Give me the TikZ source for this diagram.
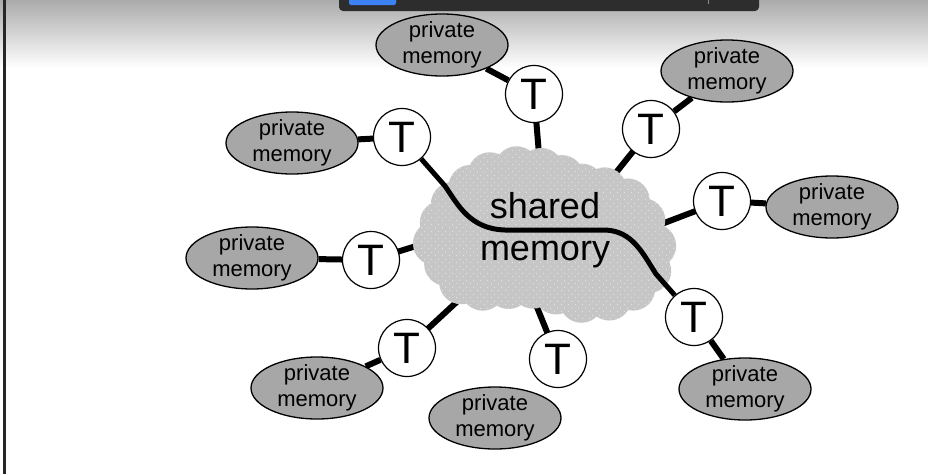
\documentclass[tikz,border=0pt]{standalone}
\usepackage{fontspec}
\setmainfont{Liberation Sans}
\usetikzlibrary{shapes.geometric,calc,patterns.meta}
\definecolor{pmfill}{HTML}{A7A7A7}
\definecolor{cloudfill}{HTML}{C6C6C6}
\definecolor{dotc}{HTML}{E2E2E2}
\definecolor{barc}{HTML}{2D2D2D}
\definecolor{bluec}{HTML}{3D82F5}
\tikzdeclarepattern{
  name=clouddots, type=uncolored,
  bounding box={(0pt,0pt) and (7pt,7pt)},
  tile size={(7pt,7pt)},
  code={\fill (1.75pt,1.75pt) circle (0.7pt); \fill (5.25pt,5.25pt) circle (0.7pt);}
}
\pgfdeclarelayer{bg}
\pgfdeclarelayer{edges}
\pgfsetlayers{bg,edges,main}
\begin{document}
\begin{tikzpicture}[x=1pt,y=-1pt,
  pmem/.style={ellipse, draw=black, line width=1.3pt, fill=pmfill, minimum width=132pt, minimum height=62pt, inner xsep=0pt, inner ysep=-4pt, align=center, font=\fontsize{22}{26}\selectfont},
  tnode/.style={circle, draw=black, line width=1.2pt, fill=white, minimum size=57pt, inner sep=0pt, font=\fontsize{44}{44}\selectfont},
  conn/.style={line width=6pt, black},
  sline/.style={line width=5pt, black, line join=round},
  cloudpart/.style={fill=cloudfill, postaction={pattern=clouddots, pattern color=dotc}}
]
\useasboundingbox (0,0) rectangle (928,474);
\begin{pgfonlayer}{bg}
  \fill[white] (0,0) rectangle (928,474);
  \shade[top color=black!33, bottom color=white] (0,0) rectangle (928,68);
  \fill[black!85] (3,0) rectangle (6,474);
  \fill[barc, rounded corners=4pt] (339,-8) rectangle (759,11);
  \fill[bluec, rounded corners=2pt] (349,-8) rectangle (396,5);
  \draw[black!45, line width=0.6pt] (708,0) -- (708,4);
\end{pgfonlayer}

% cloud: bumps around an outline
\coordinate (cc) at (545,235);
\foreach \px/\py [count=\i] in {452/175,475/158,508/148,540/148,568/156,595/168,
  622/176,648/192,665/217,676/248,670/278,652/300,625/314,592/320,
  560/314,528/308,496/305,466/303,442/293,425/270,413/245,420/220,432/197}
  {\coordinate (k\i) at ($(\px,\py)!22pt!(cc)$);}
\fill[cloudpart] (k1) -- (k2) -- (k3) -- (k4) -- (k5) -- (k6) -- (k7) -- (k8)
  -- (k9) -- (k10) -- (k11) -- (k12) -- (k13) -- (k14) -- (k15) -- (k16)
  -- (k17) -- (k18) -- (k19) -- (k20) -- (k21) -- (k22) -- (k23) -- cycle;
\foreach \i in {1,...,23} { \fill[cloudpart] (k\i) circle (22pt); }
\node[align=center, inner sep=0pt, font=\fontsize{36}{42}\selectfont] (smtext) at (545,230) {shared\\memory};

% private memories
\node[pmem] (E1) at (442,45) {private\\memory};
\node[pmem] (E2) at (727,71) {private\\memory};
\node[pmem] (E3) at (292,143) {private\\memory};
\node[pmem] (E4) at (832,207) {private\\memory};
\node[pmem] (E5) at (252,258) {private\\memory};
\node[pmem] (E6) at (317,388) {private\\memory};
\node[pmem] (E7) at (495,418) {private\\memory};
\node[pmem] (E8) at (745,389) {private\\memory};

% threads
\node[tnode] (Ta) at (534,94) {T};
\node[tnode] (Tb) at (651,129) {T};
\node[tnode] (Tc) at (402,137) {T};
\node[tnode] (Td) at (722,201) {T};
\node[tnode] (Te) at (371,260) {T};
\node[tnode] (Tf) at (407,348) {T};
\node[tnode] (Tg) at (558,359) {T};
\node[tnode] (Th) at (694,317) {T};

\coordinate (ca) at (542,190);
\coordinate (cb) at (590,205);
\coordinate (cd) at (630,236);
\coordinate (ce) at (455,234);
\coordinate (cf) at (475,285);
\coordinate (cg) at (528,285);

\begin{pgfonlayer}{edges}
  \draw[conn] (E1) -- (Ta);
  \draw[conn] (E2) -- (Tb);
  \draw[conn] (E3) -- (Tc);
  \draw[conn] (E4) -- (Td);
  \draw[conn] (E5) -- (Te);
  \draw[conn] (E6) -- (Tf);
  \draw[conn] (E8) -- (Th);
  \draw[conn] (Ta.center) -- (ca);
  \draw[conn] (Tb.center) -- (cb);
  \draw[conn] (Td.center) -- (cd);
  \draw[conn] (Te.center) -- (ce);
  \draw[conn] (Tf.center) -- (cf);
  \draw[conn] (Tg.center) -- (cg);
\end{pgfonlayer}

% shared path through the cloud
\draw[sline] (Tc) -- (445,186) .. controls (458,205) and (470,229) .. (505,230)
  -- (605,230) .. controls (632,231) and (642,252) .. (656,274) -- (Th);
\end{tikzpicture}
\end{document}
